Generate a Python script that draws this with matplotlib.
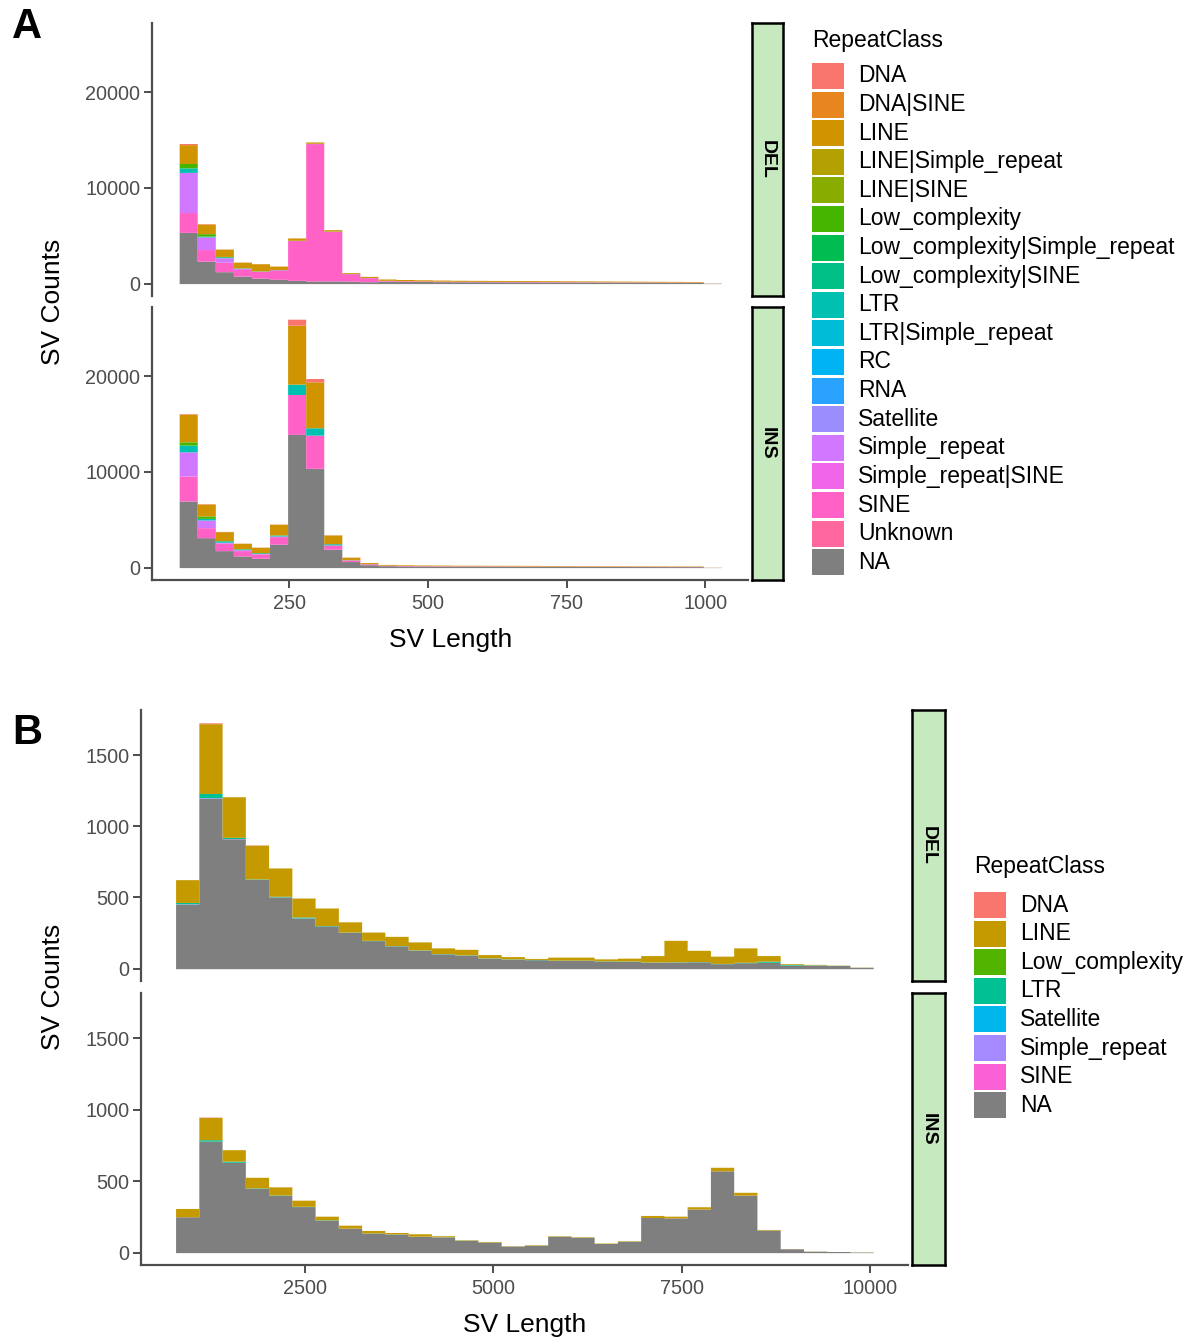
import matplotlib.pyplot as plt
import numpy as np
from matplotlib.patches import Rectangle

plt.rcParams['font.family'] = ['Liberation Sans', 'DejaVu Sans']

# ---------------- Data ----------------
classes_a = ['DNA', 'DNA|SINE', 'LINE', 'LINE|Simple_repeat', 'LINE|SINE', 'Low_complexity',
             'Low_complexity|Simple_repeat', 'Low_complexity|SINE', 'LTR', 'LTR|Simple_repeat',
             'RC', 'RNA', 'Satellite', 'Simple_repeat', 'Simple_repeat|SINE', 'SINE', 'Unknown']
classes_b = ['DNA', 'LINE', 'Low_complexity', 'LTR', 'Satellite', 'Simple_repeat', 'SINE']

# Panel A: 30 bins starting at 51 bp, width 32.6 bp
a_start, a_width = 51, 32.6
a_del_na = [5356, 2346, 1245, 790, 580, 450, 340, 270, 280, 250, 200, 260, 240, 220, 205,
            195, 190, 185, 180, 175, 170, 165, 160, 155, 150, 145, 140, 135, 130, 35]
a_del_sine = [2074, 1214, 995, 695, 697, 1000, 4160, 14370, 5180, 790, 420, 80, 65, 60, 55,
              50, 50, 45, 45, 45, 40, 40, 40, 35, 35, 35, 30, 30, 30, 8]
a_del_simple = [4195, 1320, 460, 115, 0, 0, 0, 0, 0, 0, 0, 0, 0, 0, 0,
                0, 0, 0, 0, 0, 0, 0, 0, 0, 0, 0, 0, 0, 0, 0]
a_del_ltr = [475, 90, 100, 30, 40, 20, 20, 20, 20, 10, 10, 0, 0, 0, 0,
             0, 0, 0, 0, 0, 0, 0, 0, 0, 0, 0, 0, 0, 0, 0]
a_del_lowc = [460, 250, 40, 20, 10, 10, 10, 10, 10, 0, 0, 0, 0, 0, 0,
              0, 0, 0, 0, 0, 0, 0, 0, 0, 0, 0, 0, 0, 0, 0]
a_del_line = [1970, 1010, 760, 590, 750, 350, 240, 130, 150, 90, 120, 140, 125, 120, 110,
              105, 100, 100, 95, 90, 90, 85, 80, 80, 75, 70, 70, 65, 60, 17]
a_del_dna = [120, 40, 20, 10, 10, 5, 10, 20, 10, 5, 5, 0, 0, 0, 0,
             0, 0, 0, 0, 0, 0, 0, 0, 0, 0, 0, 0, 0, 0, 0]

a_ins_na = [6963, 3130, 1775, 1220, 980, 2440, 13925, 10380, 1920, 630, 300, 200, 175, 165, 160,
            150, 148, 145, 140, 138, 132, 126, 120, 117, 114, 111, 108, 105, 102, 25]
a_ins_sine = [2610, 1045, 770, 555, 450, 800, 4175, 3470, 450, 170, 100, 50, 45, 40, 38,
              38, 37, 36, 36, 35, 33, 32, 30, 29, 28, 28, 27, 26, 25, 5]
a_ins_simple = [2527, 805, 105, 100, 40, 60, 0, 0, 0, 0, 0, 0, 0, 0, 0,
                0, 0, 0, 0, 0, 0, 0, 0, 0, 0, 0, 0, 0, 0, 0]
a_ins_ltr = [710, 170, 150, 75, 80, 100, 1080, 770, 130, 20, 10, 0, 0, 0, 0,
             0, 0, 0, 0, 0, 0, 0, 0, 0, 0, 0, 0, 0, 0, 0]
a_ins_lowc = [340, 250, 30, 30, 20, 30, 0, 0, 0, 0, 0, 0, 0, 0, 0,
              0, 0, 0, 0, 0, 0, 0, 0, 0, 0, 0, 0, 0, 0, 0]
a_ins_line = [2895, 1250, 930, 565, 560, 1100, 6160, 4800, 910, 265, 110, 80, 70, 65, 62,
              62, 60, 59, 59, 57, 55, 52, 50, 49, 48, 46, 45, 44, 43, 10]
a_ins_dna = [55, 30, 20, 10, 10, 20, 630, 350, 20, 10, 5, 0, 0, 0, 0,
             0, 0, 0, 0, 0, 0, 0, 0, 0, 0, 0, 0, 0, 0, 0]

# Panel B: 30 bins starting at 781 bp, width 308.7 bp
b_start, b_width = 781, 308.7
b_del_na = [454, 1195, 912, 626, 503, 355, 300, 255, 197, 160, 130, 104, 95, 74, 67,
            63, 58, 58, 53, 52, 45, 46, 48, 35, 42, 45, 25, 25, 22, 10]
b_del_simple = [2, 5, 2, 1, 1, 1, 0, 0, 0, 0, 0, 0, 0, 0, 0,
                0, 0, 0, 0, 0, 0, 0, 0, 0, 0, 0, 0, 0, 0, 0]
b_del_ltr = [9, 30, 8, 3, 4, 7, 3, 2, 2, 2, 2, 2, 2, 2, 2,
             2, 2, 2, 2, 2, 2, 2, 2, 2, 3, 8, 5, 2, 1, 0]
b_del_line = [160, 490, 285, 237, 199, 133, 123, 72, 58, 65, 56, 40, 39, 23, 16,
              7, 21, 21, 14, 20, 45, 151, 79, 51, 101, 39, 5, 3, 2, 1]
b_del_dna = [0, 6, 0, 2, 0, 0, 0, 0, 0, 0, 0, 0, 0, 0, 0,
             0, 0, 0, 0, 0, 0, 0, 0, 0, 0, 0, 0, 0, 0, 0]

b_ins_na = [251, 780, 632, 450, 400, 322, 228, 170, 137, 130, 114, 110, 86, 73, 46,
            52, 115, 108, 64, 80, 246, 243, 305, 572, 402, 158, 27, 10, 8, 4]
b_ins_ltr = [0, 10, 8, 3, 3, 2, 2, 1, 1, 1, 1, 1, 1, 1, 0,
             0, 0, 0, 0, 0, 0, 0, 0, 0, 0, 0, 0, 0, 0, 0]
b_ins_line = [58, 155, 80, 74, 57, 43, 25, 21, 17, 10, 17, 7, 3, 4, 2,
              3, 3, 3, 3, 3, 14, 12, 16, 25, 20, 4, 1, 1, 0, 1]
b_ins_dna = [0, 3, 0, 0, 0, 0, 0, 0, 0, 0, 0, 0, 0, 0, 0,
             0, 0, 0, 0, 0, 0, 0, 0, 0, 0, 0, 0, 0, 0, 0]


# ggplot2 default hue palette (HCL, l=65, c=100)
def hue_pal(n, c=100, l=65):
    hues = np.radians(15 + np.arange(n) * 360 / n)
    Y = ((l + 16) / 116) ** 3
    xn, yn, zn = 0.95047, 1.0, 1.08883
    un = 4 * xn / (xn + 15 * yn + 3 * zn)
    vn = 9 * yn / (xn + 15 * yn + 3 * zn)
    out = []
    for h in hues:
        u = c * np.cos(h) / (13 * l) + un
        v = c * np.sin(h) / (13 * l) + vn
        X = 9 * Y * u / (4 * v)
        Z = -X / 3 - 5 * Y + 3 * Y / v
        rgb = np.array([3.240479 * X - 1.537150 * Y - 0.498535 * Z,
                        -0.969256 * X + 1.875992 * Y + 0.041556 * Z,
                        0.055648 * X - 0.204043 * Y + 1.057311 * Z])
        rgb = np.where(rgb <= 0.0031308, 12.92 * rgb, 1.055 * np.abs(rgb) ** (1 / 2.4) - 0.055)
        out.append(tuple(np.clip(rgb, 0, 1)))
    return out


colors_a = dict(zip(classes_a, hue_pal(len(classes_a))))
colors_a['NA'] = '#7F7F7F'
colors_b = dict(zip(classes_b, hue_pal(len(classes_b))))
colors_b['NA'] = '#7F7F7F'

W, H = 1186, 1341
fig = plt.figure(figsize=(W / 100, H / 100), dpi=100)


def rect(l, t, r, b):
    return [l / W, 1 - b / H, (r - l) / W, (b - t) / H]


def draw_stack(ax, start, width, layers, classes, colors):
    # each class is one stepped band, so neighbouring bins show no seams
    n = len(layers['NA'])
    edges = start + width * np.arange(n + 1)
    bottom = np.zeros(n)
    for cat in ['NA'] + classes[::-1]:
        if cat not in layers:
            continue
        vals = np.array(layers[cat], dtype=float)
        top = bottom + vals
        band = ax.fill_between(edges, np.append(bottom, bottom[-1]), np.append(top, top[-1]),
                               step='post', color=colors[cat], linewidth=0)
        band.set_snap(False)
        bottom = top


def style_axis(ax, xlim, ylim, yticks, xticks, show_x):
    ax.set_xlim(*xlim)
    ax.set_ylim(*ylim)
    for s in ['top', 'right']:
        ax.spines[s].set_visible(False)
    ax.spines['left'].set_color('#4d4d4d')
    ax.spines['left'].set_linewidth(1.6)
    ax.set_yticks(yticks)
    ax.tick_params(axis='y', length=6, width=1.4, color='#4d4d4d', labelsize=14.3,
                   labelcolor='#4d4d4d', pad=2.5)
    if show_x:
        ax.spines['bottom'].set_color('#4d4d4d')
        ax.spines['bottom'].set_linewidth(1.6)
        ax.set_xticks(xticks)
        ax.set_xticklabels([str(t) for t in xticks])
        ax.tick_params(axis='x', length=6, width=1.4, color='#4d4d4d', labelsize=14.3,
                       labelcolor='#4d4d4d', pad=4)
    else:
        ax.spines['bottom'].set_visible(False)
        ax.set_xticks([])


def strip(r, label):
    s = fig.add_axes(r)
    s.set_facecolor('#c7e9c0')
    s.set_xticks([])
    s.set_yticks([])
    for sp in s.spines.values():
        sp.set_linewidth(1.8)
        sp.set_color('black')
    s.text(0.5, 0.5, label, rotation=-90, ha='center', va='center', fontsize=14,
           fontweight='bold', transform=s.transAxes)


def legend(cats, colors, x0, title_y, first_y, step=28.6):
    fig.text(x0 / W, 1 - title_y / H, 'RepeatClass', fontsize=16.5, ha='left', va='center')
    for i, c in enumerate(cats):
        yc = first_y + i * step
        fig.patches.append(Rectangle((x0 / W, 1 - (yc + 13) / H), 32 / W, 26 / H,
                                     facecolor=colors[c], edgecolor='none',
                                     transform=fig.transFigure))
        fig.text((x0 + 46) / W, 1 - yc / H, c, fontsize=16.5, ha='left', va='center')


# ---------------- Panel A ----------------
a_layers = {
    'DEL': {'NA': a_del_na, 'SINE': a_del_sine, 'Simple_repeat': a_del_simple, 'LTR': a_del_ltr,
            'Low_complexity': a_del_lowc, 'LINE': a_del_line, 'DNA': a_del_dna},
    'INS': {'NA': a_ins_na, 'SINE': a_ins_sine, 'Simple_repeat': a_ins_simple, 'LTR': a_ins_ltr,
            'Low_complexity': a_ins_lowc, 'LINE': a_ins_line, 'DNA': a_ins_dna},
}
a_rows = {'DEL': (23, 296), 'INS': (307, 580)}
for sv, (t, b) in a_rows.items():
    ax = fig.add_axes(rect(152, t, 748, b))
    draw_stack(ax, a_start, a_width, a_layers[sv], classes_a, colors_a)
    style_axis(ax, (2, 1077), (-1297, 27247), [0, 10000, 20000], [250, 500, 750, 1000],
               sv == 'INS')
    strip(rect(752, t, 783, b), sv)

# ---------------- Panel B ----------------
b_layers = {
    'DEL': {'NA': b_del_na, 'Simple_repeat': b_del_simple, 'LTR': b_del_ltr,
            'LINE': b_del_line, 'DNA': b_del_dna},
    'INS': {'NA': b_ins_na, 'LTR': b_ins_ltr, 'LINE': b_ins_line, 'DNA': b_ins_dna},
}
b_rows = {'DEL': (710, 981), 'INS': (993, 1265)}
for sv, (t, b) in b_rows.items():
    ax = fig.add_axes(rect(141, t, 908, b))
    draw_stack(ax, b_start, b_width, b_layers[sv], classes_b, colors_b)
    style_axis(ax, (322, 10504), (-86.5, 1816), [0, 500, 1000, 1500], [2500, 5000, 7500, 10000],
               sv == 'INS')
    strip(rect(912, t, 945, b), sv)

# ---------------- Labels ----------------
fig.text(27 / W, 1 - 27 / H, 'A', fontsize=30, fontweight='bold', ha='center', va='center')
fig.text(27 / W, 1 - 733 / H, 'B', fontsize=30, fontweight='bold', ha='center', va='center')
fig.text(53 / W, 1 - 302 / H, 'SV Counts', fontsize=19, rotation=90, ha='center', va='center')
fig.text(53 / W, 1 - 987 / H, 'SV Counts', fontsize=19, rotation=90, ha='center', va='center')
fig.text(451 / W, 1 - 640 / H, 'SV Length', fontsize=19, ha='center', va='center')
fig.text(525 / W, 1 - 1325 / H, 'SV Length', fontsize=19, ha='center', va='center')

# ---------------- Legends ----------------
legend(classes_a + ['NA'], colors_a, 812, 40, 76)
legend(classes_b + ['NA'], colors_b, 974, 867, 905)

fig.savefig('out.png', dpi=100)
